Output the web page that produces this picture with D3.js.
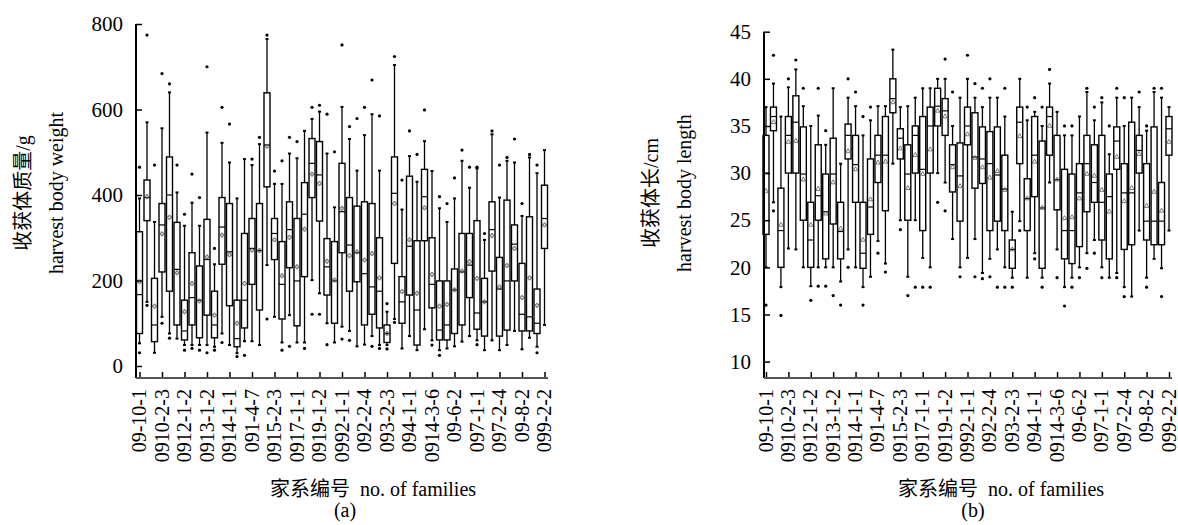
<!DOCTYPE html>
<html>
<head>
<meta charset="utf-8">
<script src="https://cdn.jsdelivr.net/npm/d3@7"></script>
<style>
  body { margin: 0; background: #fff; }
  text { font-family: "Liberation Serif", "Times New Roman", "Noto Sans CJK SC", serif; fill: #000; }
</style>
</head>
<body>
<div id="chart"></div>
<script>
// family labels shown on the x axis (every 3rd family)
const tickLabels = ["09-10-1", "0910-2-3", "0912-1-2", "0913-1-2", "0914-1-1", "091-4-7",
    "0915-2-3", "0917-1-1", "0919-1-2", "0992-1-1", "092-2-4", "093-2-3", "094-1-1",
    "0914-3-6", "09-6-2", "097-1-1", "097-2-4", "09-8-2", "099-2-2"];
const nFamilies = 55;

// (a) harvest body weight, g
const wtQ1 = [76, 340, 57, 220, 175, 96, 61, 96, 66, 119, 66, 238, 141, 45, 89, 191, 131, 419, 249, 110,
    230, 94, 209, 394, 339, 166, 100, 265, 175, 197, 96, 121, 89, 55, 240, 100, 166, 49, 293, 136,
    61, 61, 76, 96, 160, 86, 70, 222, 70, 84, 199, 82, 82, 76, 275];
const wtMed = [167, 394, 96, 330, 400, 226, 82, 160, 154, 249, 96, 325, 267, 64, 154, 275, 270, 517, 310, 191,
    319, 199, 355, 474, 447, 232, 199, 361, 283, 265, 216, 185, 175, 76, 404, 150, 280, 131, 396, 191,
    84, 96, 178, 220, 236, 124, 150, 319, 180, 199, 285, 121, 115, 100, 345];
const wtQ3 = [314, 435, 205, 380, 489, 336, 154, 265, 234, 343, 175, 394, 380, 154, 310, 345, 380, 639, 345, 291,
    384, 345, 429, 532, 525, 298, 291, 474, 394, 374, 384, 380, 300, 96, 489, 209, 444, 293, 460, 300,
    199, 199, 227, 310, 310, 340, 205, 384, 254, 388, 330, 240, 349, 180, 423];
const wtLo = [53, 150, 31, 115, 76, 64, 49, 49, 49, 49, 45, 76, 49, 30, 58, 58, 49, 236, 115, 55,
    119, 55, 55, 201, 170, 100, 55, 92, 82, 46, 50, 70, 49, 49, 110, 41, 70, 37, 86, 60,
    37, 41, 46, 57, 70, 60, 37, 60, 37, 49, 82, 39, 66, 45, 96];
const wtHi = [392, 570, 337, 556, 640, 406, 328, 382, 328, 546, 238, 522, 476, 392, 484, 470, 519, 765, 426, 426,
    497, 486, 550, 578, 595, 497, 371, 606, 531, 457, 540, 589, 457, 127, 704, 366, 491, 431, 526, 456,
    369, 337, 392, 480, 417, 462, 295, 542, 394, 480, 476, 351, 488, 451, 505];
const wtMean = [197, 396, 140, 309, 348, 218, 127, 193, 152, 255, 119, 306, 260, 100, 193, 271, 270, 514, 295, 211,
    301, 232, 320, 449, 427, 245, 201, 369, 258, 267, 248, 263, 206, 76, 380, 174, 295, 170, 370, 214,
    140, 144, 178, 222, 244, 205, 150, 305, 185, 235, 275, 160, 206, 142, 330];
const wtOut = [[465, 31], [774, 142], [470], [684, 100], [660, 65], [470], [355, 37], [449, 41], [394, 37], [700, 31],
    [275, 37], [605, 55], [566], [22], [25], [484], [535], [774, 110], [456], [480, 37],
    [535, 46], [525], [41], [605, 121], [610, 121], [589, 50], [501], [751, 63], [560, 60], [579],
    [605], [669, 46], [585, 41], [146, 40], [724, 102], [435], [550], [495], [599], [49],
    [396, 25], [380], [440], [505], [465], [465, 50], [310], [550], [470], [488],
    [531], [380], [495], [470, 31], []];

// (b) harvest body length, cm
const lenQ1 = [23.5, 34.5, 20.0, 30.0, 30.0, 25.0, 20.0, 25.0, 20.9, 24.6, 20.9, 31.5, 26.9, 19.9, 23.5, 29.0, 26.0, 36.4, 31.5, 25.0,
    30.0, 23.9, 30.0, 35.0, 34.0, 28.0, 24.9, 33.0, 28.4, 28.9, 23.9, 24.9, 23.9, 19.9, 31.0, 23.9, 27.5, 19.9, 31.9, 26.1,
    20.9, 20.4, 22.2, 25.9, 26.9, 22.9, 20.9, 30.4, 21.9, 22.4, 30.0, 22.9, 22.4, 22.4, 31.9];
const lenMed = [30.0, 36.0, 23.9, 34.0, 35.4, 29.9, 22.9, 27.6, 25.9, 29.9, 23.8, 34.0, 30.9, 21.5, 26.4, 31.9, 31.9, 37.9, 33.7, 29.9,
    34.0, 30.4, 35.0, 37.1, 36.6, 30.9, 29.7, 35.0, 31.7, 31.5, 31.0, 29.8, 28.3, 21.9, 35.4, 27.3, 31.9, 26.3, 36.0, 29.3,
    23.9, 23.9, 27.9, 31.0, 29.0, 26.9, 27.5, 33.4, 27.9, 27.9, 32.4, 24.9, 24.9, 24.9, 34.7];
const lenQ3 = [34.0, 37.0, 28.4, 36.0, 38.2, 34.9, 26.9, 33.0, 29.9, 33.7, 26.9, 35.2, 34.0, 26.9, 31.5, 34.0, 36.0, 40.0, 34.7, 33.0,
    35.0, 36.0, 37.0, 39.0, 37.9, 33.0, 33.2, 37.0, 36.4, 34.9, 34.4, 34.9, 31.9, 22.9, 37.0, 29.4, 36.0, 33.4, 37.0, 34.0,
    30.4, 29.9, 31.0, 34.0, 33.0, 34.0, 29.9, 34.9, 31.0, 35.4, 34.0, 31.0, 34.9, 29.0, 36.0];
const lenLo = [20.0, 26.9, 17.9, 22.0, 21.9, 20.0, 18.0, 20.0, 20.0, 20.0, 18.5, 21.9, 20.0, 17.9, 19.0, 22.8, 20.4, 31.0, 25.0, 19.0,
    25.0, 21.0, 20.0, 30.0, 29.0, 23.0, 20.0, 21.0, 23.0, 19.4, 20.9, 21.9, 20.0, 18.9, 24.9, 18.9, 21.5, 18.9, 29.0, 21.9,
    17.9, 18.9, 20.0, 21.5, 22.9, 20.0, 18.9, 19.4, 17.9, 16.9, 23.9, 18.9, 20.9, 19.9, 23.9];
const lenHi = [37.0, 39.5, 36.0, 39.1, 41.0, 37.1, 35.0, 36.1, 33.0, 39.0, 31.0, 38.0, 37.1, 34.0, 35.6, 37.1, 37.1, 43.1, 37.0, 37.1,
    38.0, 39.0, 39.0, 40.0, 40.0, 35.0, 38.0, 40.0, 38.0, 37.0, 38.0, 38.0, 36.0, 25.9, 40.0, 35.6, 36.5, 35.0, 39.5, 36.5,
    34.0, 34.0, 36.0, 38.6, 35.6, 37.5, 32.0, 38.0, 35.0, 38.0, 37.0, 34.5, 38.6, 38.0, 37.0];
const lenMean = [28.1, 35.4, 24.5, 33.3, 33.4, 29.3, 24.5, 28.3, 25.7, 29.0, 24.1, 32.3, 30.4, 22.9, 27.2, 31.1, 31.2, 37.5, 32.6, 28.4,
    31.9, 29.9, 32.5, 36.6, 36.0, 30.6, 28.6, 34.1, 31.6, 30.6, 29.5, 30.2, 28.2, 21.9, 33.9, 27.3, 31.2, 26.3, 35.0, 29.3,
    25.2, 25.3, 27.3, 29.9, 29.7, 28.2, 25.9, 31.7, 27.0, 28.4, 32.0, 26.5, 28.0, 26.0, 33.3];
const lenOut = [[16.0], [42.5, 26.0], [14.9], [40.0], [42.0], [39.0], [16.5], [39.0, 18.0], [34.5, 18.0], [17.0],
    [16.0], [40.0, 20.0], [38.6], [36.0, 16.0], [37.0], [21.5], [19.5], [], [24.0], [17.0],
    [17.9], [17.9], [17.9], [26.9], [42.1, 26.0], [38.6], [19.0], [42.5], [39.5, 19.0], [39.0, 18.8],
    [40.0, 19.0], [17.9], [39.0, 17.9], [17.9], [23.9], [37.0], [38.0, 20.9], [37.0, 17.9], [41.0], [18.9],
    [35.0, 15.9], [35.0, 17.9], [18.9], [39.0, 19.9], [37.0, 21.5], [38.0, 18.9], [35.0], [39.0, 18.9], [38.0, 16.9], [],
    [38.6], [35.0, 17.9], [39.0], [39.0, 16.9], []];

var width = 1178, height = 525;

var svg = d3.select("#chart").append("svg")
    .attr("width", width)
    .attr("height", height);

var panels = [
    {
        q1: wtQ1, med: wtMed, q3: wtQ3, lo: wtLo, hi: wtHi, mean: wtMean, out: wtOut,
        axisX: 136, axisRight: 548, bottom: 378, xRange: [139.5, 544.5],
        yDomain: [0, 800], yRange: [366, 24], yTicks: [0, 200, 400, 600, 800],
        yTitleCn: "收获体质量/g", yTitleEn: "harvest body weight", tag: "(a)",
        meanShape: d3.symbolCross
    },
    {
        q1: lenQ1, med: lenMed, q3: lenQ3, lo: lenLo, hi: lenHi, mean: lenMean, out: lenOut,
        axisX: 764, axisRight: 1172, bottom: 378, xRange: [766, 1169],
        yDomain: [10, 45], yRange: [361.6, 31.7], yTicks: [10, 15, 20, 25, 30, 35, 40, 45],
        yTitleCn: "收获体长/cm", yTitleEn: "harvest body length", tag: "(b)",
        meanShape: d3.symbolTriangle
    }
];

panels.forEach(drawPanel);

function drawPanel(p) {
    var x = d3.scalePoint().domain(d3.range(nFamilies)).range(p.xRange);
    var y = d3.scaleLinear().domain(p.yDomain).range(p.yRange);
    var boxW = 6;

    var rows = d3.range(nFamilies).map(i => ({
        i: i, q1: p.q1[i], med: p.med[i], q3: p.q3[i],
        lo: p.lo[i], hi: p.hi[i], mean: p.mean[i], out: p.out[i]
    }));

    var g = svg.append("g");

    var fam = g.selectAll(".fam")
        .data(rows)
        .enter().append("g")
        .attr("class", "fam");

    // whiskers
    fam.append("line")
        .attr("x1", d => x(d.i)).attr("x2", d => x(d.i))
        .attr("y1", d => y(d.hi)).attr("y2", d => y(d.lo))
        .attr("stroke", "#000").attr("stroke-width", 1.3);

    fam.selectAll(".cap")
        .data(d => [{ i: d.i, v: d.hi }, { i: d.i, v: d.lo }])
        .enter().append("line")
        .attr("class", "cap")
        .attr("x1", d => x(d.i) - 1.5).attr("x2", d => x(d.i) + 1.5)
        .attr("y1", d => y(d.v)).attr("y2", d => y(d.v))
        .attr("stroke", "#000").attr("stroke-width", 2);

    // boxes
    fam.append("rect")
        .attr("x", d => x(d.i) - boxW / 2)
        .attr("y", d => y(d.q3))
        .attr("width", boxW)
        .attr("height", d => y(d.q1) - y(d.q3))
        .attr("fill", "#fff")
        .attr("stroke", "#000")
        .attr("stroke-width", 1.4);

    fam.append("line")
        .attr("x1", d => x(d.i) - boxW / 2).attr("x2", d => x(d.i) + boxW / 2)
        .attr("y1", d => y(d.med)).attr("y2", d => y(d.med))
        .attr("stroke", "#000").attr("stroke-width", 1.2);

    // means
    fam.append("path")
        .attr("d", d3.symbol().type(p.meanShape).size(9))
        .attr("transform", d => "translate(" + x(d.i) + "," + y(d.mean) + ")")
        .attr("fill", "none")
        .attr("stroke", "#555")
        .attr("stroke-width", 0.8);

    // outliers
    fam.selectAll(".out")
        .data(d => d.out.map(v => ({ i: d.i, v: v })))
        .enter().append("circle")
        .attr("class", "out")
        .attr("cx", d => x(d.i))
        .attr("cy", d => y(d.v))
        .attr("r", 1.6)
        .attr("fill", "#000");

    // y axis
    var yAxis = d3.axisLeft(y)
        .tickValues(p.yTicks)
        .tickSizeInner(-6)
        .tickSizeOuter(0)
        .tickPadding(13)
        .tickFormat(d3.format("d"));

    var ya = svg.append("g")
        .attr("transform", "translate(" + p.axisX + ",0)")
        .call(yAxis);
    ya.select(".domain").remove();
    ya.selectAll(".tick line").attr("stroke", "#000").attr("stroke-width", 1.5);
    ya.selectAll("text").style("font-size", "21px").attr("fill", "#000");
    ya.append("line")
        .attr("x1", 0).attr("x2", 0)
        .attr("y1", d3.min(p.yRange)).attr("y2", p.bottom)
        .attr("stroke", "#000").attr("stroke-width", 2);

    // x axis
    var xAxis = d3.axisBottom(x)
        .tickValues(d3.range(0, nFamilies, 3))
        .tickSizeInner(-6)
        .tickSizeOuter(0)
        .tickFormat((d, i) => tickLabels[i]);

    var xa = svg.append("g")
        .attr("transform", "translate(0," + p.bottom + ")")
        .call(xAxis);
    xa.select(".domain").remove();
    xa.selectAll(".tick line").attr("stroke", "#000").attr("stroke-width", 1.5);
    xa.selectAll("text")
        .attr("transform", "rotate(-90)")
        .attr("x", -11)
        .attr("y", 0)
        .attr("dy", "0.3em")
        .style("text-anchor", "end")
        .style("font-size", "20px")
        .attr("fill", "#000");
    xa.append("line")
        .attr("x1", p.axisX).attr("x2", p.axisRight)
        .attr("y1", 0).attr("y2", 0)
        .attr("stroke", "#555").attr("stroke-width", 2);

    // titles
    var midY = 193;
    svg.append("text")
        .attr("transform", "translate(" + (p.axisX - 106) + "," + midY + ") rotate(-90)")
        .style("text-anchor", "middle")
        .style("font-size", "20px")
        .text(p.yTitleCn);
    svg.append("text")
        .attr("transform", "translate(" + (p.axisX - 73) + "," + midY + ") rotate(-90)")
        .style("text-anchor", "middle")
        .style("font-size", "20px")
        .text(p.yTitleEn);

    svg.append("text")
        .attr("x", p.axisX + 134)
        .attr("y", 496)
        .style("font-size", "20px")
        .text("家系编号\u00a0\u00a0no. of families");

    svg.append("text")
        .attr("x", p.axisX + 209)
        .attr("y", 517)
        .style("text-anchor", "middle")
        .style("font-size", "20px")
        .text(p.tag);
}
</script>
</body>
</html>
